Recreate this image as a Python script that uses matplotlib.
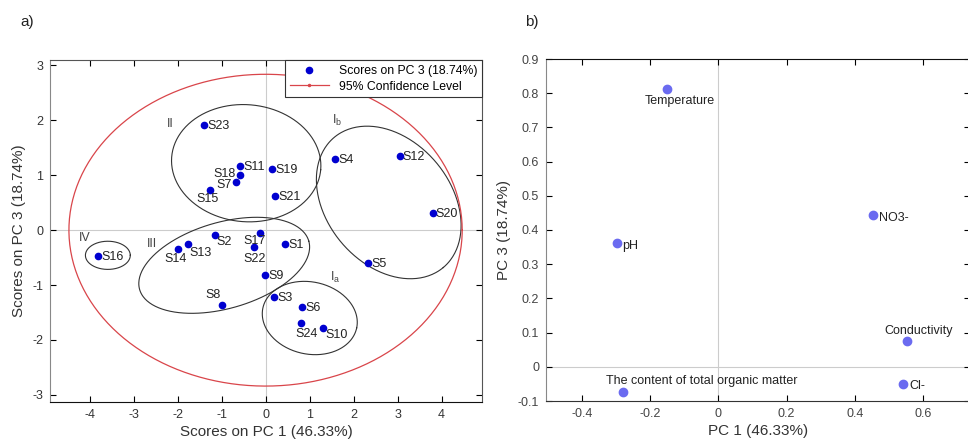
import numpy as np
import matplotlib
matplotlib.use("Agg")
import matplotlib.pyplot as plt

plt.rcParams['font.family'] = ['Liberation Sans', 'DejaVu Sans']
plt.rcParams['axes.unicode_minus'] = False

# ---- panel a) scores ----
sites = ['S1', 'S2', 'S3', 'S4', 'S5', 'S6', 'S7', 'S8', 'S9', 'S10', 'S11', 'S12',
         'S13', 'S14', 'S15', 'S16', 'S17', 'S18', 'S19', 'S20', 'S21', 'S22', 'S23', 'S24']
pc1_scores = [0.45, -1.16, 0.20, 1.58, 2.33, 0.83, -0.67, -0.98, -0.01, 1.30, -0.57, 3.05,
              -1.77, -1.99, -1.26, -3.81, -0.12, -0.59, 0.15, 3.80, 0.22, -0.27, -1.39, 0.80]
pc3_scores = [-0.26, -0.08, -1.22, 1.29, -0.60, -1.40, 0.87, -1.37, -0.81, -1.78, 1.17, 1.36,
              -0.26, -0.34, 0.74, -0.47, -0.06, 1.00, 1.11, 0.32, 0.62, -0.31, 1.91, -1.69]

group_names = ['II', r'I$_\mathregular{b}$', 'IV', 'III', r'I$_\mathregular{a}$']
group_x = [-2.17, 1.62, -4.10, -2.58, 1.58]
group_y = [1.93, 1.99, -0.15, -0.26, -0.86]

# ---- panel b) loadings ----
variables = ['Temperature', 'pH', 'NO3-', 'Conductivity', 'Cl-',
             'The content of total organic matter']
pc1_load = [-0.151, -0.297, 0.454, 0.552, 0.542, -0.278]
pc3_load = [0.813, 0.363, 0.443, 0.075, -0.050, -0.074]

# label offsets in pixels (dx, dy, ha)
site_offsets = {'S18': (-4, 1, 'right'), 'S7': (-4, -3, 'right'), 'S15': (-3, -9, 'center'),
                'S17': (-6, -8, 'center'), 'S22': (1, -12, 'center'), 'S2': (2, -7, 'left'),
                'S13': (2, -9, 'left'), 'S14': (-2, -10, 'center'), 'S8': (-9, 10, 'center'),
                'S24': (6, -11, 'center'), 'S10': (3, -7, 'left')}
var_offsets = {'Temperature': (13, -12, 'center'), 'pH': (5, -3, 'left'),
               'NO3-': (6, -3, 'left'), 'Conductivity': (12, 10, 'center'),
               'Cl-': (6, -2, 'left'), 'The content of total organic matter': (-17, 11, 'left')}

fig = plt.figure(figsize=(9.68, 4.41), dpi=100)
ax1 = fig.add_axes([50 / 968, 39 / 441, 432 / 968, 342 / 441])
ax2 = fig.add_axes([546 / 968, 40 / 441, 424 / 968, 342 / 441])

xlim1 = (-4.9, 4.92)
ylim1 = (-3.13, 3.10)
# display aspect: pixels per y unit / pixels per x unit
k = (342 / (ylim1[1] - ylim1[0])) / (432 / (xlim1[1] - xlim1[0]))


def ellipse(ax, cx, cy, a, b, ang, **kw):
    # a, b in x-units measured on screen, ang in screen degrees
    t = np.linspace(0, 2 * np.pi, 300)
    phi = np.deg2rad(ang)
    u = a * np.cos(t) * np.cos(phi) - b * np.sin(t) * np.sin(phi)
    v = a * np.cos(t) * np.sin(phi) + b * np.sin(t) * np.cos(phi)
    return ax.plot(cx + u, cy + v / k, **kw)


ax1.axhline(0, color='#cccccc', lw=0.8, zorder=0)
ax1.axvline(0, color='#cccccc', lw=0.8, zorder=0)

# cluster ellipses
for cx, cy, a, b, ang in [(-0.44, 1.22, 1.70, 1.33, -5), (2.80, 0.505, 1.93, 1.41, -50),
                          (-0.94, -0.64, 2.0, 0.98, 16), (1.005, -1.60, 1.09, 0.82, -12),
                          (-3.585, -0.458, 0.51, 0.32, 0)]:
    ellipse(ax1, cx, cy, a, b, ang, color='#333333', lw=0.8)

conf, = ellipse(ax1, 0.0, 0.0, 4.47, 2.84 * k, 0, color='#d9454a', lw=0.9,
                label='95% Confidence Level')
sc, = ax1.plot(pc1_scores, pc3_scores, 'o', color='#0000d0', ms=4.5, ls='none',
               label='Scores on PC 3 (18.74%)')

for name, x, y in zip(sites, pc1_scores, pc3_scores):
    dx, dy, ha = site_offsets.get(name, (3, -1, 'left'))
    ax1.annotate(name, (x, y), xytext=(dx * 0.72, dy * 0.72), textcoords='offset points',
                 ha=ha, va='center', fontsize=9, color='#222222')

for name, x, y in zip(group_names, group_x, group_y):
    ax1.text(x, y, name, ha='center', va='center', fontsize=9, color='#444444')

ax1.set_xlim(*xlim1)
ax1.set_ylim(*ylim1)
ax1.set_xticks(range(-4, 5))
ax1.set_yticks(range(-3, 4))
ax1.tick_params(direction='in', top=True, right=True, length=4, labelsize=9,
                labelcolor='#333333', pad=5)
ax1.set_xlabel('Scores on PC 1 (46.33%)', fontsize=11, color='#333333', labelpad=3)
ax1.set_ylabel('Scores on PC 3 (18.74%)', fontsize=11, color='#333333', labelpad=4)
for side, c in [('left', '#888888'), ('bottom', '#111111'), ('top', '#555555'), ('right', '#555555')]:
    ax1.spines[side].set_color(c)

# legend: red line drawn with a small marker in the middle
leg_line = plt.Line2D([], [], color='#d9454a', lw=0.9, marker='.', ms=3)
leg = ax1.legend([sc, leg_line], ['Scores on PC 3 (18.74%)', '95% Confidence Level'],
                 loc='upper right', borderaxespad=0, fontsize=8.8, fancybox=False,
                 framealpha=1, edgecolor='#333333', handlelength=3.2, labelspacing=0.3)
leg.get_frame().set_linewidth(0.8)

# ---- panel b ----
ax2.axhline(0, color='#cccccc', lw=0.8, zorder=0)
ax2.axvline(0, color='#cccccc', lw=0.8, zorder=0)
ax2.plot(pc1_load, pc3_load, 'o', color='#6b6bf0', ms=6, ls='none')
for name, x, y in zip(variables, pc1_load, pc3_load):
    dx, dy, ha = var_offsets[name]
    ax2.annotate(name, (x, y), xytext=(dx * 0.72, dy * 0.72), textcoords='offset points',
                 ha=ha, va='center', fontsize=9, color='#222222')

ax2.set_xlim(-0.505, 0.737)
ax2.set_ylim(-0.1, 0.9)
ax2.set_xticks([-0.4, -0.2, 0, 0.2, 0.4, 0.6])
ax2.set_xticklabels(['-0.4', '-0.2', '0', '0.2', '0.4', '0.6'])
ax2.set_yticks(np.round(np.arange(-0.1, 0.91, 0.1), 1))
ax2.set_yticklabels(['-0.1', '0', '0.1', '0.2', '0.3', '0.4', '0.5', '0.6', '0.7', '0.8', '0.9'])
ax2.tick_params(direction='in', top=True, right=True, length=4, labelsize=9,
                labelcolor='#444444', pad=5)
ax2.set_xlabel('PC 1 (46.33%)', fontsize=11, color='#333333', labelpad=3)
ax2.set_ylabel('PC 3 (18.74%)', fontsize=11, color='#333333', labelpad=5)
for side, c in [('left', '#888888'), ('bottom', '#333333'), ('top', '#111111'), ('right', '#555555')]:
    ax2.spines[side].set_color(c)

fig.text(20 / 968, 1 - 22 / 441, 'a)', fontsize=11, va='center', color='#222222')
fig.text(525 / 968, 1 - 22 / 441, 'b)', fontsize=11, va='center', color='#222222')

fig.savefig('out.png', dpi=100)
